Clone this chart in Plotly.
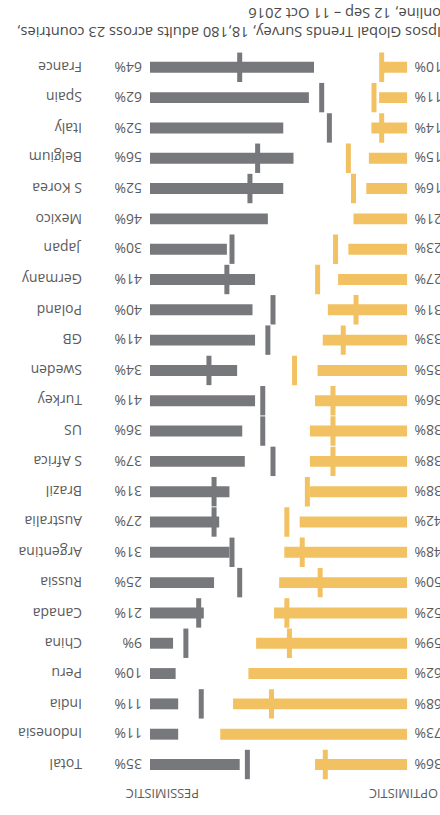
import plotly.graph_objects as go

countries = ["Total", "Indonesia", "India", "Peru", "China", "Canada", "Russia",
             "Argentina", "Australia", "Brazil", "S Africa", "US", "Turkey", "Sweden",
             "GB", "Poland", "Germany", "Japan", "Mexico", "S Korea", "Belgium",
             "Italy", "Spain", "France"]
pessimistic = [35, 11, 11, 10, 9, 21, 25, 31, 27, 31, 37, 36, 41, 34, 41, 40, 41, 30,
               46, 52, 56, 52, 62, 64]
optimistic = [36, 73, 68, 62, 59, 52, 50, 48, 42, 38, 38, 38, 36, 35, 33, 31, 27, 23,
              21, 16, 15, 14, 11, 10]
pessimistic_prev = [38, None, 20, None, 14, 19, 35, 32, 25, 25, 48, 44, 44, 23, 46, 48,
                    30, 32, None, 39, 42, 70, 67, 35]
optimistic_prev = [32, None, 53, None, 46, 47, 34, 41, 47, 39, 29, 29, 29, 44, 25, 20,
                   35, 28, None, 21, 23, 10, 13, 10]
header_pess = "PESSIMISTIC"
header_opt = "OPTIMISTIC"
note = "Ipsos Global Trends Survey, 18,180 adults across 23 countries,<br>online, 12 Sep – 11 Oct 2016"

GRAY = "#76787b"
YELLOW = "#f2c162"
TEXT = "#5b5b5b"
FONT = "Open Sans"

W, H = 440, 815
px_per = 2.5625
gray0 = 150.0
yel0 = 407.3
row_top, row_bot = 67.3, 764.5
step = (row_bot - row_top) / (len(countries) - 1)

idx = list(range(len(countries)))

fig = go.Figure()
fig.add_trace(go.Bar(y=idx, x=pessimistic, orientation="h", xaxis="x", yaxis="y",
                     marker=dict(color=GRAY, line=dict(width=0)), width=0.36,
                     hoverinfo="skip"))
fig.add_trace(go.Bar(y=idx, x=optimistic, orientation="h", xaxis="x2", yaxis="y",
                     marker=dict(color=YELLOW, line=dict(width=0)), width=0.36,
                     hoverinfo="skip"))
fig.add_trace(go.Scatter(y=idx, x=pessimistic_prev, mode="markers", xaxis="x", yaxis="y",
                         marker=dict(symbol="line-ns", size=21,
                                     line=dict(width=5, color=GRAY)),
                         hoverinfo="skip"))
fig.add_trace(go.Scatter(y=idx, x=optimistic_prev, mode="markers", xaxis="x2", yaxis="y",
                         marker=dict(symbol="line-ns", size=21,
                                     line=dict(width=5, color=YELLOW)),
                         hoverinfo="skip"))

ann = []
for i, c in enumerate(countries):
    ann.append(dict(text=c, x=84 / W, xref="paper", xanchor="right", y=i, yref="y",
                    yanchor="middle", textangle=180, showarrow=False,
                    font=dict(family=FONT, size=14, color=TEXT)))
    ann.append(dict(text=f"{pessimistic[i]}%", x=144 / W, xref="paper", xanchor="right",
                    y=i, yref="y", yanchor="middle", textangle=180, showarrow=False,
                    font=dict(family=FONT, size=14, color=TEXT)))
    ann.append(dict(text=f"{optimistic[i]}%", x=444 / W, xref="paper", xanchor="right",
                    y=i, yref="y", yanchor="middle", textangle=180, showarrow=False,
                    font=dict(family=FONT, size=14, color=TEXT)))

y_head = (row_bot - 794) / step
ann.append(dict(text=header_pess, x=201 / W, xref="paper", xanchor="right", y=y_head,
                yref="y", yanchor="middle", textangle=180, showarrow=False,
                font=dict(family=FONT, size=12.8, color=TEXT)))
ann.append(dict(text=header_opt, x=440 / W, xref="paper", xanchor="right", y=y_head,
                yref="y", yanchor="middle", textangle=180, showarrow=False,
                font=dict(family=FONT, size=12.8, color=TEXT)))
ann.append(dict(text=note, x=443 / W, xref="paper", xanchor="right", y=1 - 23 / H,
                yref="paper", yanchor="middle", textangle=180, showarrow=False,
                align="left", font=dict(family=FONT, size=14.7, color="#4a4a4a")))

fig.update_layout(
    width=W, height=H, margin=dict(l=0, r=0, t=0, b=0, pad=0),
    paper_bgcolor="white", plot_bgcolor="rgba(0,0,0,0)", showlegend=False,
    barmode="overlay",
    xaxis=dict(domain=[gray0 / W, 1], range=[0, (W - gray0) / px_per], visible=False,
               fixedrange=True),
    xaxis2=dict(domain=[0, yel0 / W], range=[yel0 / px_per, 0], visible=False,
                anchor="y", fixedrange=True),
    yaxis=dict(range=[-(H - row_bot) / step, row_bot / step], visible=False,
               fixedrange=True),
    annotations=ann,
)

fig.write_html("out.html", config={"displayModeBar": False},
               post_script="document.body.style.margin='0';")
